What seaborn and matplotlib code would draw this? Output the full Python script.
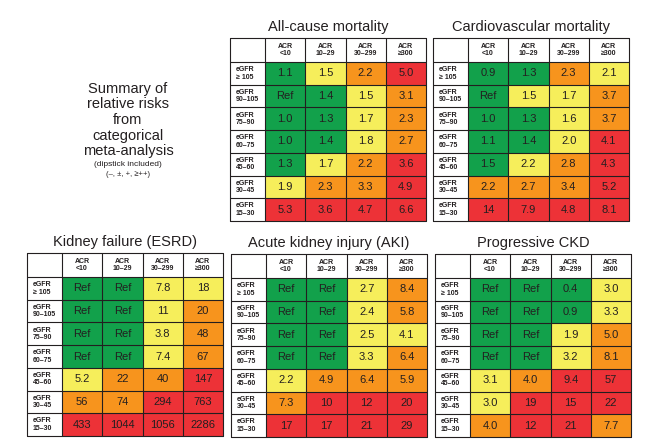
import numpy as np
import seaborn as sns
import matplotlib.pyplot as plt
from matplotlib.colors import ListedColormap

sns.set_theme(style="white")
plt.rcParams["font.family"] = ["Liberation Sans", "DejaVu Sans"]

acr_labels = ["ACR\n<10", "ACR\n10–29", "ACR\n30–299", "ACR\n≥300"]
egfr_labels = ["eGFR\n≥ 105", "eGFR\n90–105", "eGFR\n75–90", "eGFR\n60–75",
               "eGFR\n45–60", "eGFR\n30–45", "eGFR\n15–30"]

# risk colour category: 0 green, 1 yellow, 2 orange, 3 red
allcause_vals = [["1.1", "1.5", "2.2", "5.0"], ["Ref", "1.4", "1.5", "3.1"],
                 ["1.0", "1.3", "1.7", "2.3"], ["1.0", "1.4", "1.8", "2.7"],
                 ["1.3", "1.7", "2.2", "3.6"], ["1.9", "2.3", "3.3", "4.9"],
                 ["5.3", "3.6", "4.7", "6.6"]]
allcause_cat = [[0, 1, 2, 3], [0, 0, 1, 2], [0, 0, 1, 2], [0, 0, 1, 2],
                [0, 1, 2, 3], [1, 2, 2, 3], [3, 3, 3, 3]]

cardio_vals = [["0.9", "1.3", "2.3", "2.1"], ["Ref", "1.5", "1.7", "3.7"],
               ["1.0", "1.3", "1.6", "3.7"], ["1.1", "1.4", "2.0", "4.1"],
               ["1.5", "2.2", "2.8", "4.3"], ["2.2", "2.7", "3.4", "5.2"],
               ["14", "7.9", "4.8", "8.1"]]
cardio_cat = [[0, 0, 2, 1], [0, 1, 1, 2], [0, 0, 1, 2], [0, 0, 1, 3],
              [0, 1, 2, 3], [2, 2, 2, 3], [3, 3, 3, 3]]

esrd_vals = [["Ref", "Ref", "7.8", "18"], ["Ref", "Ref", "11", "20"],
             ["Ref", "Ref", "3.8", "48"], ["Ref", "Ref", "7.4", "67"],
             ["5.2", "22", "40", "147"], ["56", "74", "294", "763"],
             ["433", "1044", "1056", "2286"]]
esrd_cat = [[0, 0, 1, 1], [0, 0, 1, 2], [0, 0, 1, 2], [0, 0, 1, 2],
            [1, 2, 2, 3], [2, 2, 3, 3], [3, 3, 3, 3]]

aki_vals = [["Ref", "Ref", "2.7", "8.4"], ["Ref", "Ref", "2.4", "5.8"],
            ["Ref", "Ref", "2.5", "4.1"], ["Ref", "Ref", "3.3", "6.4"],
            ["2.2", "4.9", "6.4", "5.9"], ["7.3", "10", "12", "20"],
            ["17", "17", "21", "29"]]
aki_cat = [[0, 0, 1, 2], [0, 0, 1, 2], [0, 0, 1, 1], [0, 0, 1, 2],
           [1, 2, 2, 2], [2, 3, 3, 3], [3, 3, 3, 3]]

ckd_vals = [["Ref", "Ref", "0.4", "3.0"], ["Ref", "Ref", "0.9", "3.3"],
            ["Ref", "Ref", "1.9", "5.0"], ["Ref", "Ref", "3.2", "8.1"],
            ["3.1", "4.0", "9.4", "57"], ["3.0", "19", "15", "22"],
            ["4.0", "12", "21", "7.7"]]
ckd_cat = [[0, 0, 0, 1], [0, 0, 0, 1], [0, 0, 1, 2], [0, 0, 1, 2],
           [1, 2, 3, 3], [1, 3, 3, 3], [2, 3, 3, 2]]

risk_colors = ["#12a14b", "#f6ee5b", "#f7941d", "#ed3237"]
cmap = ListedColormap(risk_colors)

W, H = 646, 447
fig = plt.figure(figsize=(W / 100, H / 100), dpi=100)

# (title, values, categories, left px, top px)
panels = [
    ("All-cause mortality", allcause_vals, allcause_cat, 230, 38),
    ("Cardiovascular mortality", cardio_vals, cardio_cat, 433, 38),
    ("Kidney failure (ESRD)", esrd_vals, esrd_cat, 27, 253),
    ("Acute kidney injury (AKI)", aki_vals, aki_cat, 231, 254),
    ("Progressive CKD", ckd_vals, ckd_cat, 435, 254),
]

tw, th = 196, 183      # table size in px
lab_w, head_h = 35, 24
cell_w = (tw - lab_w) / 4
cell_h = (th - head_h) / 7
lw_u = lab_w / cell_w
hh_u = head_h / cell_h
edge = "#231f20"

for title, vals, cats, left, top in panels:
    ax = fig.add_axes([left / W, 1 - (top + th) / H, tw / W, th / H])
    sns.heatmap(np.array(cats), cmap=cmap, vmin=-0.5, vmax=3.5, cbar=False,
                annot=np.array(vals), fmt="", linewidths=0,
                xticklabels=False, yticklabels=False, ax=ax,
                annot_kws={"fontsize": 8, "color": "#231f20"})
    ax.set_xlim(-lw_u, 4)
    ax.set_ylim(7, -hh_u)
    ax.set_facecolor("white")
    for x in [-lw_u, 0, 1, 2, 3, 4]:
        ax.plot([x, x], [-hh_u, 7], color=edge, lw=0.8, clip_on=False)
    for y in [-hh_u, 0, 1, 2, 3, 4, 5, 6, 7]:
        ax.plot([-lw_u, 4], [y, y], color=edge, lw=0.8, clip_on=False)
    for j, lab in enumerate(acr_labels):
        ax.text(j + 0.5, -hh_u / 2, lab, ha="center", va="center",
                fontsize=5, fontweight="bold", color=edge, linespacing=1.1)
    for i, lab in enumerate(egfr_labels):
        ax.text(-lw_u + 0.14, i + 0.5, lab, ha="left", va="center",
                fontsize=5, fontweight="bold", color=edge, linespacing=1.1)
    for s in ax.spines.values():
        s.set_visible(False)
    ax.set_title(title, fontsize=10.5, pad=5, color=edge)

fig.text(128 / W, 1 - 120 / H,
         "Summary of\nrelative risks\nfrom\ncategorical\nmeta-analysis",
         ha="center", va="center", fontsize=10.5, linespacing=1.15, color=edge)
fig.text(128 / W, 1 - 164 / H, "(dipstick included)", ha="center",
         va="center", fontsize=6, color=edge)
fig.text(128 / W, 1 - 175 / H, "(–, ±, +, ≥++)", ha="center",
         va="center", fontsize=5.5, color=edge)

fig.savefig("out.png", dpi=100)
